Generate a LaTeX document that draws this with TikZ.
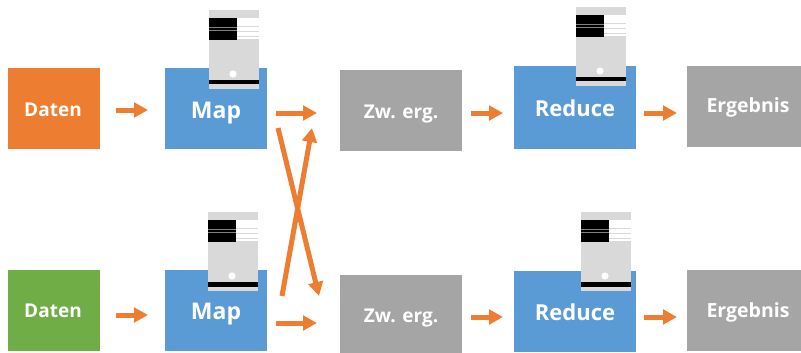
\documentclass[tikz,border=0pt]{standalone}
\usepackage{fontspec}
\setmainfont{Open Sans}
\usetikzlibrary{arrows.meta}
\definecolor{cOrange}{HTML}{ED7D31}
\definecolor{cGreen}{HTML}{70AD47}
\definecolor{cBlue}{HTML}{5B9BD5}
\definecolor{cGray}{HTML}{A5A5A5}
\definecolor{cLight}{HTML}{D9D9D9}
\tikzset{
  x=1pt,y=-1pt,
  flow/.style={draw=cOrange,line width=5pt,-{Triangle[length=14pt,width=14.5pt]}},
  pics/server/.style={code={
    \fill[cLight] (0,0) rectangle (50,79);
    \fill[white] (28,8) rectangle (50,29);
    \foreach \yy in {16,21,26}{\fill[cLight] (28,\yy) rectangle (50,\yy+0.8);}
    \fill[black] (0,8) rectangle (28,30);
    \fill[cLight!60!black] (0,17) rectangle (28,18);
    \fill[cLight!60!black] (0,20) rectangle (28,21);
    \fill[white] (24,64) circle (3.6);
    \fill[black] (0,70) rectangle (50,74.5);
  }}
}
% name x1 y1 x2 y2 colour fontsize text-centre-x baseline-y text
\newcommand{\mybox}[9]{%
  \fill[#6] (#2,#3) rectangle (#4,#5);
  \mylabel{#1}{#7}{#8}{#9}%
}
\newcommand{\mylabel}[4]{%
  \def\mysize{#2}\mypos#3\relax
  \node[inner sep=0pt,anchor=base,font=\fontsize{\mysize}{\mysize}\selectfont\bfseries,text=white] (#1) at (\myx,\myy) {#4};
}
\def\mypos#1/#2\relax{\def\myx{#1}\def\myy{#2}}
\begin{document}
\begin{tikzpicture}
\useasboundingbox (0,0) rectangle (801,353);
\fill[white] (0,0) rectangle (801,353);
\mybox{d1}{8}{68}{100}{149}{cOrange}{19}{53/116}{Daten}
\mybox{d2}{8}{270}{100}{351}{cGreen}{19}{53/317}{Daten}
\mybox{m1}{165}{68}{267}{149}{cBlue}{23}{216/118}{Map}
\mybox{m2}{165}{270}{267}{351}{cBlue}{23}{216/319}{Map}
\mybox{z1}{340}{70}{462}{151}{cGray}{19}{401/118}{Zw. erg.}
\mybox{z2}{340}{275}{462}{353}{cGray}{19}{401/322}{Zw. erg.}
\mybox{r1}{514}{66}{636}{149}{cBlue}{22}{575/117}{Reduce}
\mybox{r2}{514}{271}{636}{352}{cBlue}{22}{575/320}{Reduce}
\mybox{e1}{687}{66}{801}{147}{cGray}{19.5}{748/113}{Ergebnis}
\mybox{e2}{687}{270}{801}{351}{cGray}{19.5}{748/317}{Ergebnis}
\pic at (209,10) {server};
\pic at (208,212) {server};
\pic at (576,7) {server};
\pic at (581,212) {server};
\foreach \n/\x/\y in {a1/116/110,a2/148/110,b1/116/315,b2/148/315,c1/276/113,c2/317/113,f1/276/323,f2/317/323,
  g1/471/113,g2/503/113,h1/471/317,h2/503/317,i1/644/113,i2/677/113,j1/644/317,j2/677/317,
  k1/278/128,k2/319/296,l1/282/296,l2/312/128}{\coordinate (\n) at (\x,\y);}
\foreach \s/\t in {a1/a2,b1/b2,c1/c2,f1/f2,g1/g2,h1/h2,i1/i2,j1/j2,k1/k2,l1/l2}{\draw[flow] (\s) -- (\t);}
\end{tikzpicture}
\end{document}
